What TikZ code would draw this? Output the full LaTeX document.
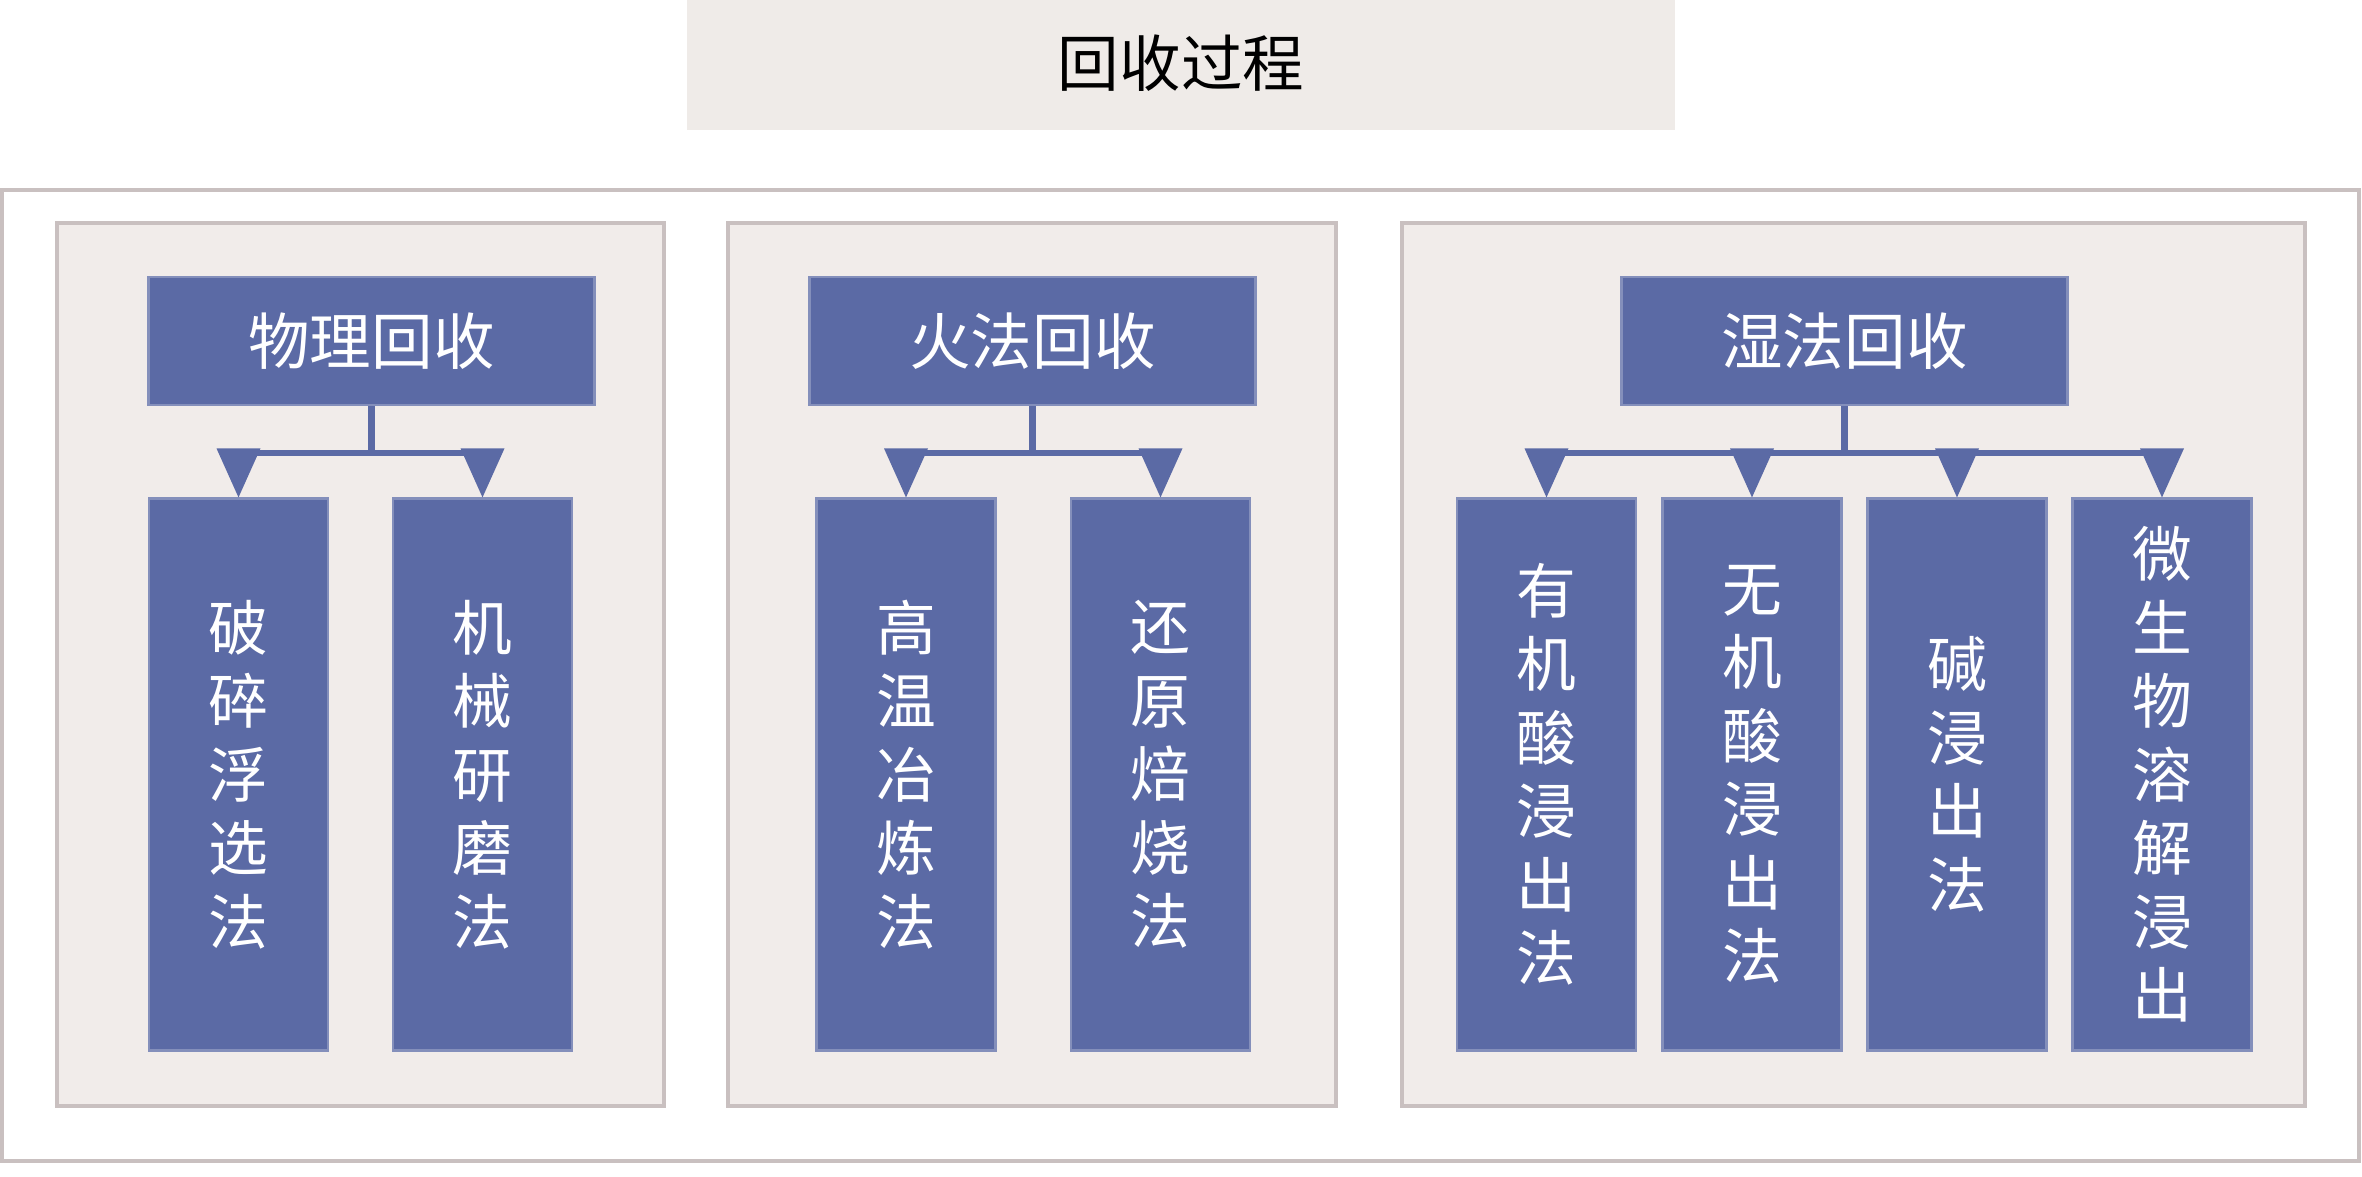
\documentclass[tikz,border=0pt]{standalone}
\usepackage{fontspec}
\setmainfont{Noto Sans CJK SC}
\definecolor{blueC}{HTML}{5B6AA5}
\definecolor{paneC}{HTML}{F1ECEA}
\definecolor{lineC}{HTML}{C9C0C0}
\definecolor{titleC}{HTML}{EFEBE8}
\begin{document}
\begin{tikzpicture}[x=0.01cm, y=-0.01cm,
    head/.style={fill=blueC, draw=blueC!75!white, line width=0.8pt, text=white, minimum width=4.45cm, minimum height=1.28cm, inner sep=0pt, font=\fontsize{17.5}{21}\selectfont},
    item/.style={fill=blueC, draw=blueC!75!white, line width=0.8pt, text=white, minimum width=1.79cm, minimum height=5.51cm, inner sep=0pt, align=center, font=\fontsize{17}{20.9}\selectfont},
    pane/.style={fill=paneC, draw=lineC, line width=1pt},
    conn/.style={draw=blueC, line width=1.8pt}]
    \useasboundingbox (0,0) rectangle (2362,1177);
    % 1. 标题
    \fill[titleC] (687,0) rectangle (1675,130);
    \node[font=\fontsize{17.5}{21}\selectfont] (title) at (1181,63) {回收过程};

    % 2. 外框与三个底板
    \draw[draw=lineC, line width=1pt, fill=white] (2,190) rectangle (2359,1161);
    \draw[pane] (57,223) rectangle (664,1106);
    \draw[pane] (728,223) rectangle (1336,1106);
    \draw[pane] (1402,223) rectangle (2305,1106);

    % 3. 分类方框
    \node[head] (h1) at (371.5,341) {物理回收};
    \node[head] (h2) at (1032.5,341) {火法回收};
    \node[head] (h3) at (1844.5,341) {湿法回收};

    % 4. 方法方框
    \node[item] (c11) at (238.5,774.5) {破\\碎\\浮\\选\\法};
    \node[item] (c12) at (482.5,774.5) {机\\械\\研\\磨\\法};
    \node[item] (c21) at (906,774.5) {高\\温\\冶\\炼\\法};
    \node[item] (c22) at (1160.5,774.5) {还\\原\\焙\\烧\\法};
    \node[item] (c31) at (1546.5,774.5) {有\\机\\酸\\浸\\出\\法};
    \node[item] (c32) at (1752,774.5) {无\\机\\酸\\浸\\出\\法};
    \node[item] (c33) at (1957,774.5) {碱\\浸\\出\\法};
    \node[item] (c34) at (2162,774.5) {微\\生\\物\\溶\\解\\浸\\出};

    % 5. 连接线
    \coordinate (bar) at (0,453);
    \draw[conn] (h1.south) -- (h1.south |- bar);
    \draw[conn] (c11.north |- bar) -- (c12.north |- bar);
    \draw[conn] (h2.south) -- (h2.south |- bar);
    \draw[conn] (c21.north |- bar) -- (c22.north |- bar);
    \draw[conn] (h3.south) -- (h3.south |- bar);
    \draw[conn] (c31.north |- bar) -- (c34.north |- bar);
    \foreach \c in {c11,c12,c21,c22,c31,c32,c33,c34}
        \fill[blueC] (\c.north) -- ++(-22,-49) -- ++(44,0) -- cycle;
\end{tikzpicture}
\end{document}
